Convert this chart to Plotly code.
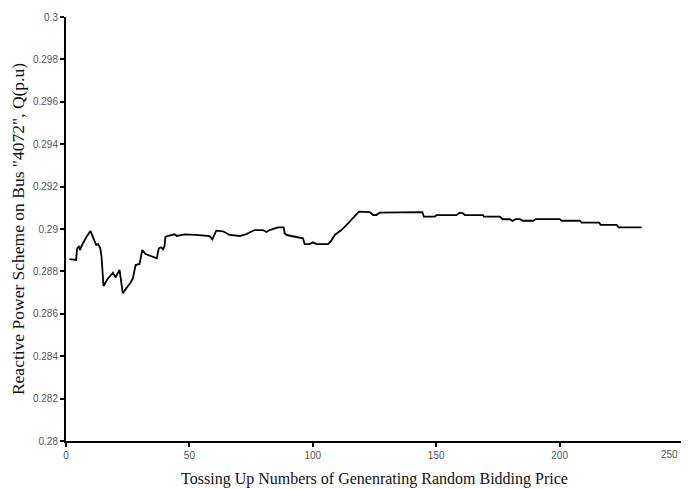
import plotly.graph_objects as go

# Tossing-up iterations (x) and reactive power on bus 4072 (y)
toss_count = [
    1.4, 4.1, 4.5, 5.2, 5.7, 6.3, 8.2, 9.9, 12.2, 13.0, 13.9, 14.4, 15.2, 17.0,
    19.0, 20.1, 21.7, 22.2, 23.0, 24.4, 26.0, 27.1, 28.2, 29.8, 30.9, 32.2,
    34.5, 36.8, 37.6, 38.6, 39.3, 39.9, 40.3, 42.0, 44.0, 44.9, 48.1, 52.8,
    58.2, 59.3, 60.9, 63.6, 66.3, 70.4, 73.1, 76.4, 79.8, 81.2, 82.5, 85.9,
    88.2, 88.6, 89.3, 91.3, 93.3, 96.0, 96.7, 98.7, 100.1, 101.5, 106.2,
    107.5, 108.9, 111.6, 114.3, 117.0, 118.7, 123.1, 124.4, 125.8, 127.1,
    144.4, 145.0, 149.4, 150.1, 158.2, 159.6, 160.9, 161.6, 169.0, 169.3,
    175.8, 176.9, 179.8, 180.9, 182.3, 183.9, 185.0, 189.3, 190.4, 200.1,
    200.8, 208.2, 208.9, 216.1, 216.6, 223.1, 223.9, 233.3,
]
reactive_q = [
    0.28858, 0.28854, 0.28909, 0.28917, 0.28901, 0.28920, 0.28961, 0.28991,
    0.28925, 0.28929, 0.28909, 0.28869, 0.28731, 0.28767, 0.28794, 0.28772,
    0.28807, 0.28772, 0.28697, 0.28720, 0.28744, 0.28767, 0.28830, 0.28835,
    0.28901, 0.28882, 0.28873, 0.28862, 0.28909, 0.28914, 0.28904, 0.28917,
    0.28964, 0.28968, 0.28975, 0.28967, 0.28975, 0.28972, 0.28967, 0.28951,
    0.28992, 0.28989, 0.28972, 0.28967, 0.28976, 0.28995, 0.28995, 0.28986,
    0.28995, 0.29008, 0.29008, 0.28980, 0.28972, 0.28967, 0.28961, 0.28956,
    0.28929, 0.28929, 0.28937, 0.28929, 0.28929, 0.28945, 0.28972, 0.28995,
    0.29027, 0.29058, 0.29082, 0.29080, 0.29066, 0.29066, 0.29077, 0.29080,
    0.29058, 0.29058, 0.29065, 0.29065, 0.29077, 0.29074, 0.29065, 0.29065,
    0.29058, 0.29058, 0.29046, 0.29046, 0.29038, 0.29047, 0.29047, 0.29039,
    0.29039, 0.29047, 0.29047, 0.29039, 0.29039, 0.29030, 0.29030, 0.29019,
    0.29019, 0.29008, 0.29008,
]

x_ticks = [0, 50, 100, 150, 200, 250]
x_tick_text = ['0', '50', '100', '150', '200', '']  # last label drawn below, kept inside the page
x_last_label = '250'
y_ticks = [0.28, 0.282, 0.284, 0.286, 0.288, 0.29, 0.292, 0.294, 0.296, 0.298, 0.3]
y_tick_text = ['0.28', '0.282', '0.284', '0.286', '0.288', '0.29', '0.292',
               '0.294', '0.296', '0.298', '0.3']

TICK_FONT = dict(family='Liberation Sans, Arial, sans-serif', size=10, color='#555555')
X_TITLE_FONT = dict(family='Liberation Serif, Times New Roman, serif', size=16, color='#111111')
Y_TITLE_FONT = dict(family='Liberation Serif, Times New Roman, serif', size=17.5, color='#111111')

fig = go.Figure(go.Scatter(
    x=toss_count, y=reactive_q, mode='lines',
    line=dict(color='black', width=1.8),
    showlegend=False,
))

# page body adds an 8px offset, so the figure is a bit smaller than the window
fig.update_layout(
    width=681, height=481,
    margin=dict(l=58, r=6, t=9, b=48),
    paper_bgcolor='white', plot_bgcolor='white',
    xaxis=dict(
        range=[0, 250], tickvals=x_ticks, ticktext=x_tick_text,
        showgrid=False, zeroline=False,
        showline=True, linecolor='black', linewidth=2,
        ticks='outside', ticklen=4, tickwidth=1.5, tickcolor='black',
        tickfont=TICK_FONT, automargin=False,
        title=dict(text='Tossing Up Numbers of Genenrating Random Bidding Price',
                   font=X_TITLE_FONT, standoff=13),
    ),
    yaxis=dict(
        range=[0.28, 0.3], tickvals=y_ticks, ticktext=y_tick_text,
        showgrid=False, zeroline=False,
        showline=True, linecolor='black', linewidth=2,
        ticks='outside', ticklen=4, tickwidth=1.5, tickcolor='black',
        tickfont=TICK_FONT, automargin=False,
        title=dict(text='Reactive Power Scheme on Bus "4072", Q(p.u)',
                   font=Y_TITLE_FONT, standoff=8),
    ),
)

fig.add_annotation(
    x=x_ticks[-1], xref='x', y=0, yref='paper',
    text=x_last_label, showarrow=False, font=TICK_FONT,
    xanchor='right', yanchor='top', xshift=-3, yshift=-6,
)

fig.write_html("out.html")
